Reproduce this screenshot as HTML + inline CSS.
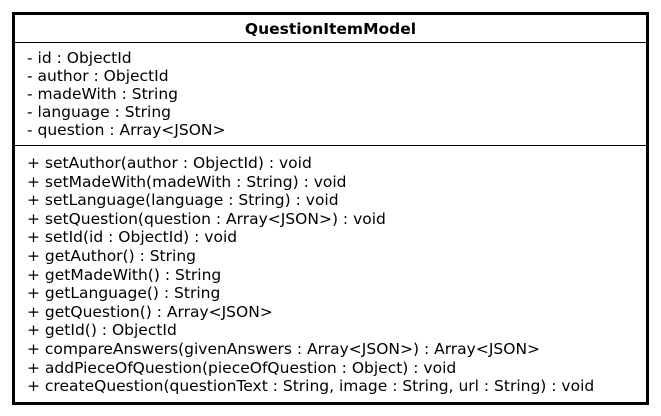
<!DOCTYPE html>
<html><head><style>
body{margin:0;background:#fff;width:661px;height:416px;position:relative;overflow:hidden;font-family:"DejaVu Sans",sans-serif;color:#000}
.box{position:absolute;left:12px;top:12px;width:631px;height:387px;border:3px solid #000}
.t{position:absolute;white-space:nowrap;font-size:15.5px;line-height:18px}
.hr{position:absolute;left:15px;width:631px;height:1px;background:#000}
</style></head><body>
<div class="box"></div>
<div class="t" style="left:0;width:661px;text-align:center;top:20px;font-weight:bold">QuestionItemModel</div>
<div class="hr" style="top:42px"></div>
<div class="t" style="left:27px;top:49px">- id : ObjectId</div>
<div class="t" style="left:27px;top:67px">- author : ObjectId</div>
<div class="t" style="left:27px;top:85px">- madeWith : String</div>
<div class="t" style="left:27px;top:103px">- language : String</div>
<div class="t" style="left:27px;top:121px">- question : Array&lt;JSON&gt;</div>
<div class="hr" style="top:145px"></div>
<div class="t" style="left:27px;top:154px">+ setAuthor(author : ObjectId) : void</div>
<div class="t" style="left:27px;top:172.6px">+ setMadeWith(madeWith : String) : void</div>
<div class="t" style="left:27px;top:191.2px">+ setLanguage(language : String) : void</div>
<div class="t" style="left:27px;top:209.8px">+ setQuestion(question : Array&lt;JSON&gt;) : void</div>
<div class="t" style="left:27px;top:228.4px">+ setId(id : ObjectId) : void</div>
<div class="t" style="left:27px;top:247px">+ getAuthor() : String</div>
<div class="t" style="left:27px;top:265.6px">+ getMadeWith() : String</div>
<div class="t" style="left:27px;top:284.2px">+ getLanguage() : String</div>
<div class="t" style="left:27px;top:302.8px">+ getQuestion() : Array&lt;JSON&gt;</div>
<div class="t" style="left:27px;top:321.4px">+ getId() : ObjectId</div>
<div class="t" style="left:27px;top:340px">+ compareAnswers(givenAnswers : Array&lt;JSON&gt;) : Array&lt;JSON&gt;</div>
<div class="t" style="left:27px;top:358.6px">+ addPieceOfQuestion(pieceOfQuestion : Object) : void</div>
<div class="t" style="left:27px;top:377.2px">+ createQuestion(questionText : String, image : String, url : String) : void</div>
</body></html>
